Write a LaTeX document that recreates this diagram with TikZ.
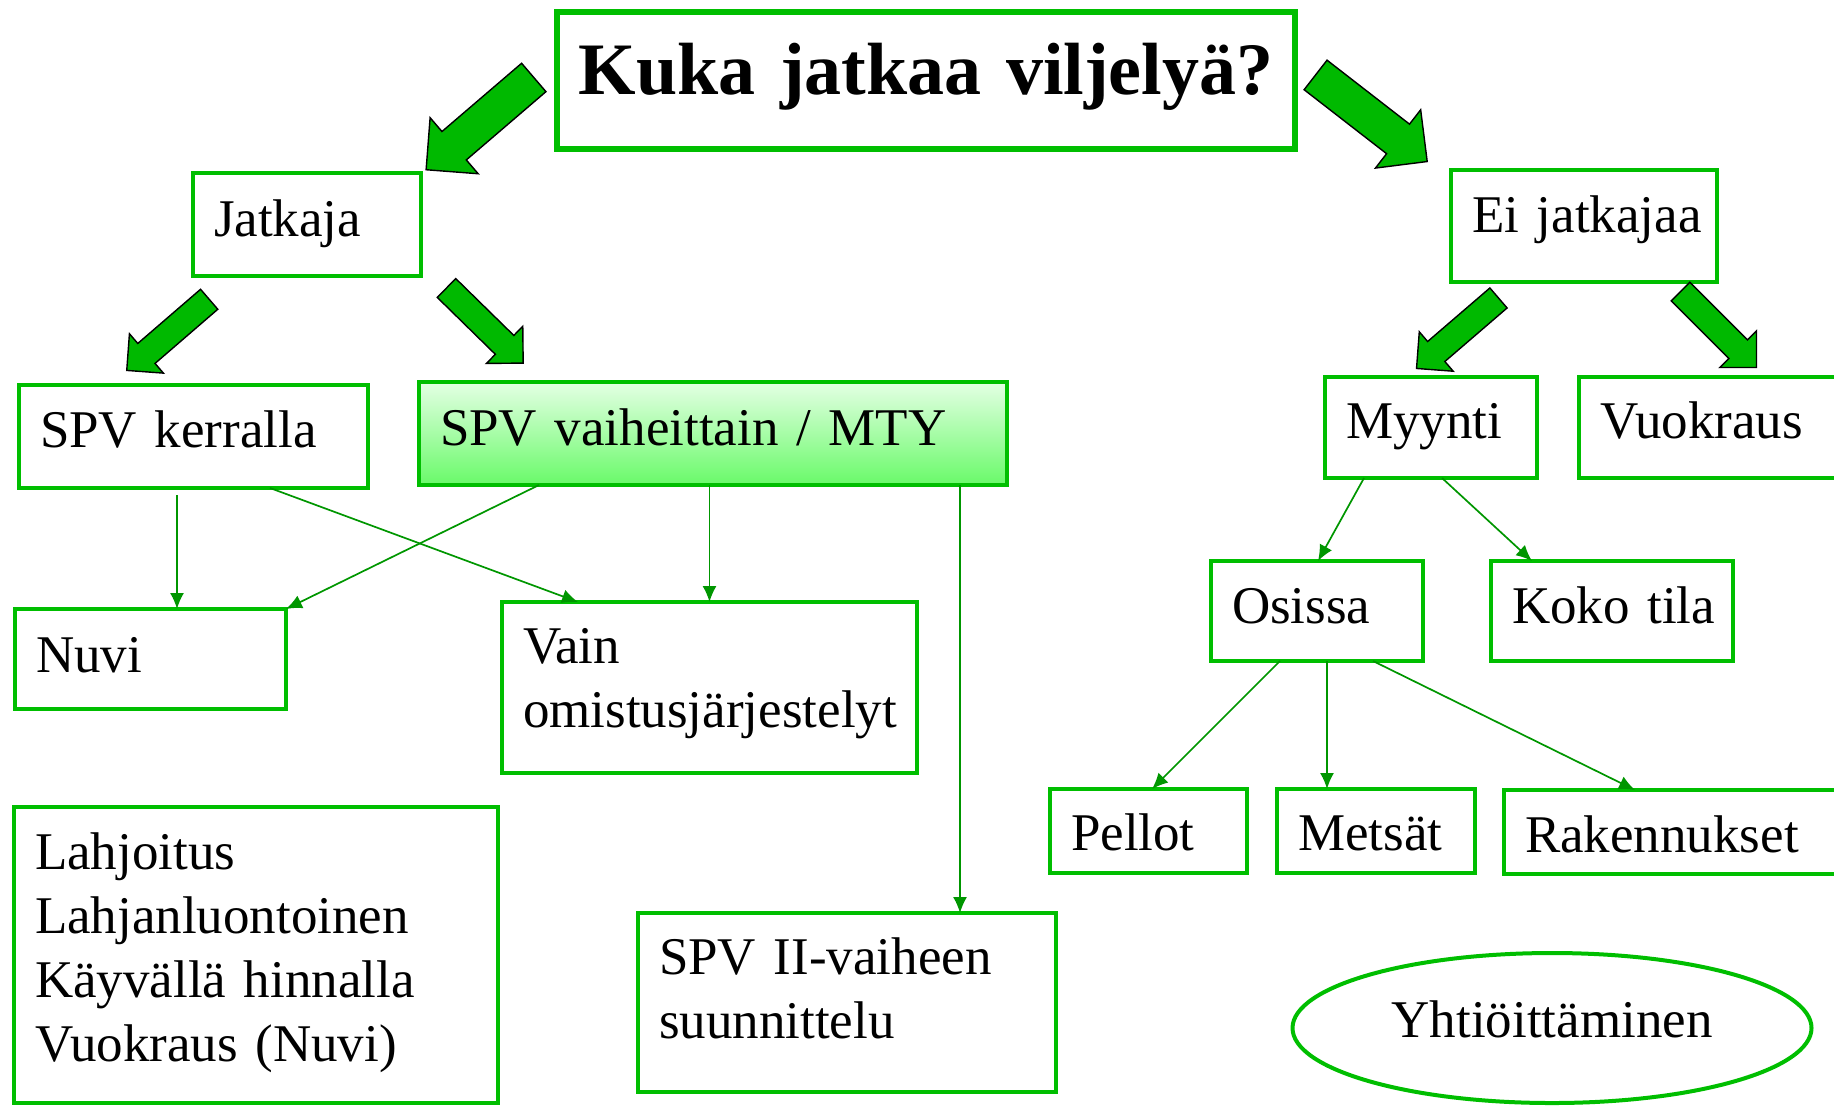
\documentclass[tikz,border=0pt]{standalone}
\usepackage{fontspec}
\setmainfont{Liberation Serif}
\usetikzlibrary{shapes.arrows,shapes.geometric,arrows.meta}
\definecolor{boxgreen}{RGB}{0,190,0}
\definecolor{linkgreen}{RGB}{0,150,0}
\definecolor{arrowgreen}{RGB}{0,185,0}
\definecolor{spvtop}{RGB}{228,255,228}
\definecolor{spvbottom}{RGB}{105,250,105}
\hyphenpenalty=10000
\exhyphenpenalty=10000
\begin{document}
\begin{tikzpicture}[x=0.5pt,y=-0.5pt,
    box/.style={draw=boxgreen,line width=2.2pt,rectangle,anchor=north west,align=left,inner xsep=10.5pt,inner ysep=0pt,outer sep=0pt,font=\fontsize{26.5}{32}\selectfont},
    link/.style={draw=linkgreen,line width=0.85pt,-{Latex[length=8pt,width=7pt]}},
    bigarrow/.style={single arrow,draw=black,line width=0.7pt,fill=arrowgreen,single arrow tip angle=90,anchor=tail,inner sep=0pt,inner ysep=9pt,single arrow head extend=9.1pt},
    smallarrow/.style={bigarrow,inner ysep=6.25pt,single arrow head extend=6.4pt}]
    \useasboundingbox (0,0) rectangle (1834,1105);
    % question
    \node[box,line width=2.6pt,align=center,text width=348pt,text height=41pt,text depth=27.5pt,font=\fontsize{37}{44}\selectfont\bfseries] (kuka) at (557,12) {Kuka jatkaa viljelyä?};
    % left side
    \node[box,text width=93pt,text height=31.5pt,text depth=20pt] (jatkaja) at (193,173) {Jatkaja};
    \node[box,text width=153.5pt,text height=31pt,text depth=20.5pt] (kerralla) at (19,385) {SPV kerralla};
    \node[box,top color=spvtop,bottom color=spvbottom,text width=273pt,text height=31.5pt,text depth=20pt] (vaiheittain) at (419,382) {SPV vaiheittain / MTY};
    \node[box,text width=114.5pt,text height=31.5pt,text depth=18.5pt] (nuvi) at (15,609) {Nuvi};
    \node[box,text width=186.5pt,text height=30.5pt,text depth=55pt] (vain) at (502,602) {Vain\\omistusjärjestelyt};
    \node[box,text width=221pt,text height=31pt,text depth=117pt] (luovutus) at (14,807) {Lahjoitus\\Lahjanluontoinen\\Käyvällä hinnalla\\Vuokraus (Nuvi)};
    \node[box,text width=188pt,text height=30.5pt,text depth=59pt] (spvii) at (638,913) {SPV II-vaiheen\\suunnittelu};
    % right side
    \node[box,text width=112pt,text height=31pt,text depth=25pt] (eijatkajaa) at (1451,170) {Ei~jatkajaa};
    \node[box,text width=85pt,text height=30.5pt,text depth=20pt] (myynti) at (1325,377) {Myynti};
    \node[box,text width=109.5pt,text height=30.5pt,text depth=20pt] (vuokraus) at (1579,377) {Vuokraus};
    \node[box,text width=85pt,text height=31pt,text depth=19pt] (osissa) at (1211,561) {Osissa};
    \node[box,text width=100pt,text height=31pt,text depth=19pt] (kokotila) at (1491,561) {Koko~tila};
    \node[box,text width=77.5pt,text height=30.5pt,text depth=11.5pt] (pellot) at (1050,789) {Pellot};
    \node[box,text width=78pt,text height=30.5pt,text depth=11.5pt] (metsat) at (1277,789) {Metsät};
    \node[box,text width=147pt,text height=31pt,text depth=11pt] (rakennukset) at (1504,790) {Rakennukset};
    \node[draw=boxgreen,line width=2pt,ellipse,minimum width=259.5pt,minimum height=75pt,inner sep=0pt,text height=13pt,text depth=4pt,font=\fontsize{26.5}{32}\selectfont] (yhtio) at (1552,1028) {Yhtiöittäminen};
    % block arrows
    \node[bigarrow,minimum height=70.9pt,rotate=220.6] (kukajatkaja) at (534.3,77) {};
    \node[bigarrow,minimum height=70.65pt,rotate=-37.8] (kukaei) at (1315,74.5) {};
    \node[smallarrow,minimum height=54.45pt,rotate=220.8] (jatkajakerralla) at (209.7,298.8) {};
    \node[smallarrow,minimum height=53.65pt,rotate=-44.4] (jatkajavaiheittain) at (446,287.5) {};
    \node[smallarrow,minimum height=54.05pt,rotate=220.7] (eimyynti) at (1499,297.5) {};
    \node[smallarrow,minimum height=53.75pt,rotate=-45] (eivuokraus) at (1680,291) {};
    % thin arrows
    \draw[link] ([xshift=79pt,yshift=-3.5pt]kerralla.south west) -- ([xshift=81pt]nuvi.north west);
    \draw[link] ([xshift=125.5pt]kerralla.south west) -- ([xshift=38pt]vain.north west);
    \draw[link] ([xshift=60pt]vaiheittain.south west) -- (nuvi.north east);
    \draw[link] (vain.north |- vaiheittain.south) -- (vain.north);
    \draw[link] ([xshift=270.5pt]vaiheittain.south west) coordinate (v2) -- (v2 |- spvii.north);
    \draw[link] ([xshift=19.5pt]myynti.south west) -- ([xshift=53.5pt]osissa.north west);
    \draw[link] ([xshift=58.5pt]myynti.south west) -- ([xshift=20.5pt]kokotila.north west);
    \draw[link] ([xshift=34.5pt]osissa.south west) -- ([xshift=51pt]pellot.north west);
    \draw[link] ([xshift=58pt]osissa.south west) coordinate (o2) -- (o2 |- metsat.north);
    \draw[link] ([xshift=81pt]osissa.south west) -- ([xshift=65.5pt]rakennukset.north west);
\end{tikzpicture}
\end{document}
